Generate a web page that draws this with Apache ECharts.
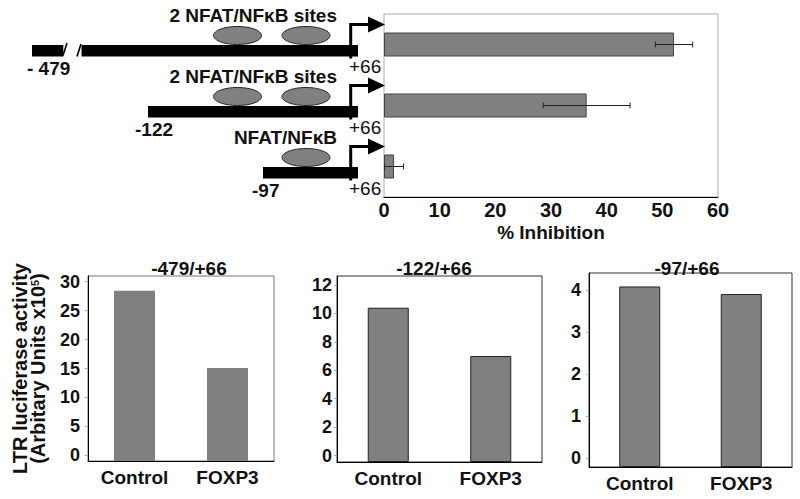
<!DOCTYPE html>
<html><head><meta charset="utf-8">
<script src="https://cdn.jsdelivr.net/npm/echarts@6/dist/echarts.min.js"></script>
<style>html,body{margin:0;padding:0;background:#fff}#c{width:800px;height:499px}</style>
</head><body><div id="c"></div>
<script>
// ---- data ----
const constructs = ['-479/+66', '-122/+66', '-97/+66'];
const inhibition = [52.1, 36.4, 1.8];
const inhibitionSD = [3.35, 7.8, 1.7];
const inhibitionTicks = [0, 10, 20, 30, 40, 50, 60];
const groups = ['Control', 'FOXP3'];
const luc479 = [28.4, 15.1];
const luc122 = [10.4, 7.0];
const luc97 = [4.08, 3.9];
const ticks479 = [0, 5, 10, 15, 20, 25, 30];
const ticks122 = [0, 2, 4, 6, 8, 10, 12];
const ticks97 = [0, 1, 2, 3, 4];
const startLabels = ['- 479', '-122', '-97'];
const endLabel = '+66';
const siteLabels = ['2 NFAT/NF\u03BAB sites', '2 NFAT/NF\u03BAB sites', 'NFAT/NF\u03BAB'];
const siteCounts = [2, 2, 1];

// ---- style / layout ----
const F = 'Liberation Sans, Arial, Helvetica, sans-serif';
const GREY = '#808080';
const chart = echarts.init(document.getElementById('c'), null, {renderer: 'svg'});

function lucX(gi) {
  return {
    type: 'category', gridIndex: gi, data: groups,
    axisLine: {onZero: false, lineStyle: {color: '#000', width: 1}},
    axisTick: {show: false},
    axisLabel: {fontFamily: F, fontSize: 19, fontWeight: 'bold', color: '#111', margin: 7}
  };
}
function lucY(gi, min, max, ticks, margin) {
  return {
    type: 'value', gridIndex: gi, min: min, max: max, startValue: min,
    axisLine: {show: true, onZero: false, lineStyle: {color: '#000', width: 1}},
    axisTick: {show: true, length: 3, lineStyle: {color: '#aaa'}, customValues: ticks},
    axisLabel: {fontFamily: F, fontSize: 18, fontWeight: 'bold', color: '#111', margin: margin, customValues: ticks},
    splitLine: {show: false}
  };
}
function lucBar(gi, data, border) {
  return {
    type: 'bar', xAxisIndex: gi, yAxisIndex: gi, data: data, barWidth: 41,
    itemStyle: {color: GREY, borderColor: border, borderWidth: border ? 1 : 0},
    silent: true
  };
}

const option = {
  animation: false,
  backgroundColor: '#fff',
  grid: [
    {left: 384, top: 14, width: 334, height: 183, show: true, borderColor: '#aaa', borderWidth: 1},
    {left: 88, top: 276, width: 186, height: 185, show: true, borderColor: '#777', borderWidth: 1},
    {left: 337, top: 276, width: 205, height: 186, show: true, borderColor: '#333', borderWidth: 1},
    {left: 589, top: 273, width: 203, height: 194, show: true, borderColor: '#333', borderWidth: 1}
  ],
  xAxis: [
    {
      type: 'value', gridIndex: 0, min: 0, max: 60, interval: 10,
      axisLine: {show: true, lineStyle: {color: '#000', width: 1}},
      axisTick: {show: false},
      axisLabel: {fontFamily: F, fontSize: 20, fontWeight: 'bold', color: '#111', margin: 3, customValues: inhibitionTicks},
      splitLine: {show: false},
      name: '% Inhibition', nameLocation: 'middle', nameGap: 26,
      nameTextStyle: {fontFamily: F, fontSize: 19, fontWeight: 'bold', color: '#111'}
    },
    lucX(1), lucX(2), lucX(3)
  ],
  yAxis: [
    {
      type: 'category', gridIndex: 0, inverse: true, data: constructs,
      axisLine: {show: false}, axisTick: {show: false}, axisLabel: {show: false}
    },
    Object.assign(lucY(1, -0.95, 30.95, ticks479, 8), {
      name: '{a|LTR luciferase activity}\n{a|(Arbitary Units x10}{s|5}{a|)}',
      nameLocation: 'middle', nameRotate: 90, nameGap: 41,
      nameTextStyle: {
        rich: {
          a: {fontFamily: F, fontSize: 20, fontWeight: 'bold', color: '#111', lineHeight: 18},
          s: {fontFamily: F, fontSize: 11, fontWeight: 'bold', color: '#111', lineHeight: 18, verticalAlign: 'top'}
        }
      }
    }),
    lucY(2, -0.45, 12.63, ticks122, 5),
    lucY(3, -0.21, 4.4, ticks97, 8)
  ],
  series: [
    {
      type: 'bar', xAxisIndex: 0, yAxisIndex: 0, data: inhibition, barWidth: 24,
      itemStyle: {color: GREY, borderColor: '#444', borderWidth: 1}, silent: true
    },
    {
      type: 'custom', xAxisIndex: 0, yAxisIndex: 0, z: 5, silent: true,
      data: inhibition.map((v, i) => [v, i, inhibitionSD[i]]),
      encode: {x: 0, y: 1},
      renderItem: function (params, api) {
        const m = api.value(0), c = api.value(1), sd = api.value(2);
        const a = api.coord([m - sd, c]);
        const b = api.coord([m + sd, c]);
        const st = {stroke: '#222', lineWidth: 1};
        return {
          type: 'group',
          children: [
            {type: 'line', shape: {x1: a[0], y1: a[1], x2: b[0], y2: b[1]}, style: st},
            {type: 'line', shape: {x1: a[0], y1: a[1] - 3, x2: a[0], y2: a[1] + 3}, style: st},
            {type: 'line', shape: {x1: b[0], y1: b[1] - 3, x2: b[0], y2: b[1] + 3}, style: st}
          ]
        };
      }
    },
    lucBar(1, luc479, null),
    lucBar(2, luc122, '#222'),
    lucBar(3, luc97, '#222')
  ]
};
chart.setOption(option);

// ---- promoter schematics, aligned with the rows of the inhibition chart ----
const rowStart = [32, 148, 263];
const rowEnd = 358;
const arrowX = 350.7;
const siteX = [[237.5, 306], [237.5, 306], [306]];
const startLabelX = [27, 135, 252];
const g = [];
const bold19 = {fontFamily: F, fontSize: 19, fontWeight: 'bold', fill: '#111'};
constructs.forEach(function (c, i) {
  const y = chart.convertToPixel({gridIndex: 0}, [0, i])[1];
  const by = y + 0.5, bh = 11.5;
  if (i === 0) {
    g.push({type: 'rect', shape: {x: rowStart[i], y: by, width: 63.3 - rowStart[i], height: bh}, style: {fill: '#000'}});
    g.push({type: 'rect', shape: {x: 81.5, y: by, width: rowEnd - 81.5, height: bh}, style: {fill: '#000'}});
    g.push({type: 'line', shape: {x1: 63, y1: y + 11, x2: 67, y2: y - 1.5}, style: {stroke: '#000', lineWidth: 1.6}});
    g.push({type: 'line', shape: {x1: 77, y1: y + 12, x2: 81, y2: y - 0.5}, style: {stroke: '#000', lineWidth: 1.6}});
  } else {
    g.push({type: 'rect', shape: {x: rowStart[i], y: by, width: rowEnd - rowStart[i], height: bh}, style: {fill: '#000'}});
  }
  for (let k = 0; k < siteCounts[i]; k++) {
    g.push({type: 'ellipse', shape: {cx: siteX[i][k], cy: y - 9, rx: 24, ry: 9}, style: {fill: GREY, stroke: '#222', lineWidth: 1}});
  }
  g.push({type: 'polyline', shape: {points: [[arrowX, y + 14], [arrowX, y - 20], [369, y - 20]]}, style: {stroke: '#000', lineWidth: 3, fill: null}});
  g.push({type: 'polygon', shape: {points: [[368, y - 28], [368, y - 12], [385, y - 20]]}, style: {fill: '#000'}});
  g.push({type: 'text', style: Object.assign({text: siteLabels[i], x: 337, y: y - 29.5, align: 'right', verticalAlign: 'middle'}, bold19)});
  g.push({type: 'text', style: Object.assign({text: startLabels[i], x: startLabelX[i], y: y + 24, align: 'left', verticalAlign: 'middle'}, bold19)});
  g.push({type: 'text', style: {text: endLabel, x: 349, y: y + 22, align: 'left', verticalAlign: 'middle', fontFamily: F, fontSize: 19, fill: '#111'}});
});
// panel titles
const titleX = [189, 434, 687];
constructs.forEach(function (c, i) {
  g.push({type: 'text', style: Object.assign({text: c, x: titleX[i], y: 268, align: 'center', verticalAlign: 'middle'}, bold19)});
});
chart.setOption({graphic: g});
</script>
</body></html>
